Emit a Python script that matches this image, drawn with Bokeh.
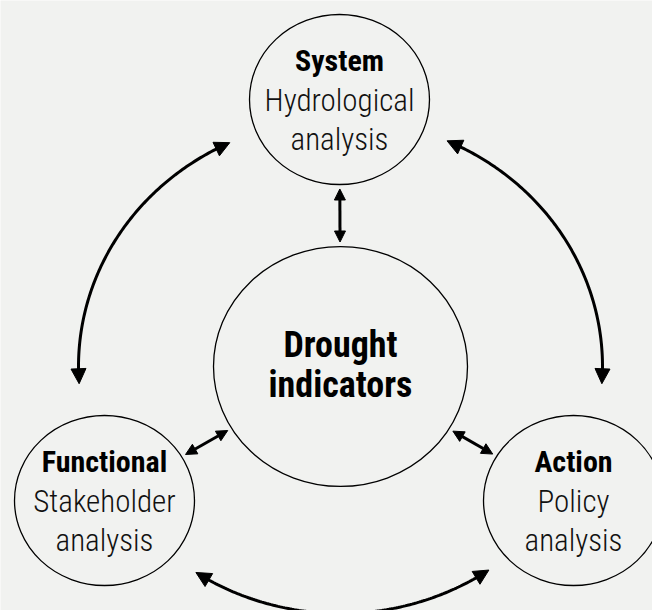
import numpy as np
from bokeh.plotting import figure
from bokeh.models import Range1d, Arrow, NormalHead, ColumnDataSource
from bokeh.core.properties import value
from bokeh.embed import file_html
from bokeh.resources import INLINE

# ---- diagram data ----
node_titles = ["System", "Functional", "Action"]
node_line2 = ["Hydrological", "Stakeholder", "Policy"]
node_line3 = ["analysis", "analysis", "analysis"]
node_x = [339, 104, 573]
node_y = [99, 500, 500]
node_rx = 90
node_ry = 85

hub_lines = ["Drought", "indicators"]
hub_x = 340
hub_y = 366
hub_rx = 127
hub_ry = 120

# outer ring arcs (degrees, counter-clockwise, y up)
ring_rx = 262
ring_ry = 247
arc_from = [115, -4, 236.5]
arc_to = [184, 66, 304.5]

FONT = "Roboto Condensed"
FONT_LIGHT = "Roboto Condensed Light"
BG = "#f1f2f0"

p = figure(width=652, height=610, output_backend="svg", toolbar_location=None,
           x_range=Range1d(0, 652), y_range=Range1d(610, 0))
p.axis.visible = False
p.grid.visible = False
p.outline_line_color = None
p.background_fill_color = BG
p.border_fill_color = BG
p.min_border = 0

# circles
p.ellipse(x=node_x, y=node_y, width=2 * node_rx, height=2 * node_ry,
          fill_color=None, line_color="black", line_width=1.3)
p.ellipse(x=[hub_x], y=[hub_y], width=2 * hub_rx, height=2 * hub_ry,
          fill_color=None, line_color="black", line_width=1.3)

# texts
dy_title, dy_l2, dy_l3 = -39, 1, 40
src = ColumnDataSource(dict(
    x=node_x, yt=[y + dy_title for y in node_y], y2=[y + dy_l2 for y in node_y],
    y3=[y + dy_l3 for y in node_y], t=node_titles, l2=node_line2, l3=node_line3))
p.text(x="x", y="yt", text="t", source=src, text_align="center", text_baseline="alphabetic",
       text_font=value(FONT), text_font_style="bold", text_font_size="30px", text_color="black")
p.text(x="x", y="y2", text="l2", source=src, text_align="center", text_baseline="alphabetic",
       text_font=value(FONT_LIGHT), text_font_size="31px", text_color="#111111")
p.text(x="x", y="y3", text="l3", source=src, text_align="center", text_baseline="alphabetic",
       text_font=value(FONT_LIGHT), text_font_size="31px", text_color="#111111")
p.text(x=[hub_x, hub_x], y=[hub_y - 21.5, hub_y + 18], text=hub_lines, text_align="center",
       text_baseline="alphabetic", text_font=value(FONT), text_font_style="bold",
       text_font_size="36px", text_color="black")

# straight double arrows between hub and nodes
gap = 4.5
def boundary(cx, cy, rx, ry, ux, uy):
    r = 1.0 / np.sqrt((ux / rx) ** 2 + (uy / ry) ** 2)
    return cx + ux * r, cy + uy * r

for nx, ny in zip(node_x, node_y):
    dx, dy = hub_x - nx, hub_y - ny
    d = np.hypot(dx, dy)
    ux, uy = dx / d, dy / d
    ax, ay = boundary(nx, ny, node_rx, node_ry, ux, uy)
    bx, by = boundary(hub_x, hub_y, hub_rx, hub_ry, -ux, -uy)
    ax, ay = ax + ux * gap, ay + uy * gap
    bx, by = bx - ux * gap, by - uy * gap
    p.add_layout(Arrow(x_start=ax, y_start=ay, x_end=bx, y_end=by, line_width=3, line_color="black",
                       start=NormalHead(size=11, fill_color="black", line_color="black"),
                       end=NormalHead(size=11, fill_color="black", line_color="black")))

# outer curved arrows
head = 15
for a0, a1 in zip(arc_from, arc_to):
    r_mid = 0.5 * (ring_rx + ring_ry)
    delta = np.degrees(head / r_mid)
    th = np.radians(np.linspace(a0 + delta * 0.9, a1 - delta * 0.9, 120))
    xs = hub_x + ring_rx * np.cos(th)
    ys = hub_y - ring_ry * np.sin(th)
    p.line(xs, ys, line_width=3, line_color="black")
    for tip, base in ((a0, a0 + delta), (a1, a1 - delta)):
        tx = hub_x + ring_rx * np.cos(np.radians(tip))
        ty = hub_y - ring_ry * np.sin(np.radians(tip))
        bx = hub_x + ring_rx * np.cos(np.radians(base))
        by = hub_y - ring_ry * np.sin(np.radians(base))
        p.add_layout(Arrow(x_start=bx, y_start=by, x_end=tx, y_end=ty, line_width=3, line_color="black",
                           end=NormalHead(size=head, fill_color="black", line_color="black")))

open("out.html", "w").write(file_html(p, INLINE))
